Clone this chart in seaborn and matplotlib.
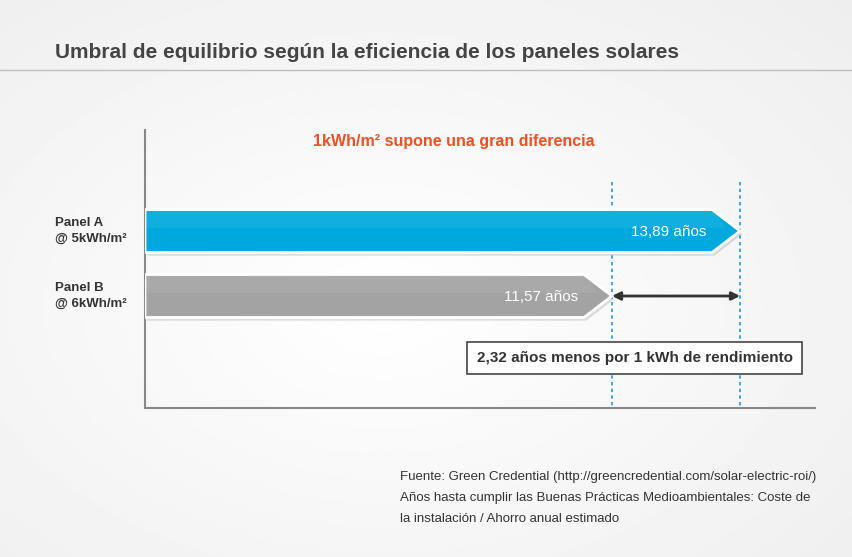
import matplotlib
matplotlib.use("Agg")
import matplotlib.pyplot as plt
import numpy as np
import seaborn as sns

panels = ["Panel A\n@ 5kWh/m²", "Panel B\n@ 6kWh/m²"]
years = [13.89, 11.57]
labels = ["13,89 años", "11,57 años"]
colors = ["#00a9dd", "#a3a3a3"]
diff_label = "2,32 años menos por 1 kWh de rendimiento"
title = "Umbral de equilibrio según la eficiencia de los paneles solares"
subtitle = "1kWh/m² supone una gran diferencia"
notes = ["Fuente: Green Credential (http://greencredential.com/solar-electric-roi/)",
         "Años hasta cumplir las Buenas Prácticas Medioambientales: Coste de",
         "la instalación / Ahorro anual estimado"]


def main():
	sns.set_theme(style="white", font="Liberation Sans")
	fig = plt.figure(figsize=(8.53, 5.57), dpi=100)

	# soft background
	bg = fig.add_axes([0, 0, 1, 1], zorder=-10)
	yy, xx = np.mgrid[0:1:200j, 0:1:300j]
	r = np.sqrt((xx - 0.45) ** 2 + (yy - 0.55) ** 2)
	bg.imshow(1 - 0.07 * np.clip(r / 0.8, 0, 1), cmap="gray", vmin=0, vmax=1,
	          extent=[0, 1, 0, 1], aspect="auto")
	bg.axis("off")

	fig.text(55 / 853, 1 - 52 / 557, title, fontsize=15, fontweight="bold",
	         color="#444444", va="center")
	fig.add_artist(plt.Line2D([0, 1], [1 - 70 / 557] * 2, color="#bdbdbd", lw=1))

	ax = fig.add_axes([145 / 853, 149 / 557, 670 / 853, 278 / 557])
	ax.set_facecolor("none")
	x0, k = 3.11, 55.2
	ax.set_xlim(x0, x0 + 670 / k)
	ax.set_ylim(2.723, -1.554)
	for s in ["top", "right"]:
		ax.spines[s].set_visible(False)
	for s in ["left", "bottom"]:
		ax.spines[s].set_color("#888888")
		ax.spines[s].set_linewidth(1.5)
	ax.set_xticks([])
	ax.set_yticks([])

	h = 0.33
	tip = 28 / k
	for i, (v, c, lab) in enumerate(zip(years, colors, labels)):
		xs = [x0, v - tip, v, v - tip, x0]
		ys = [i - h, i - h, i, i + h, i + h]
		ax.fill([x + 0.04 for x in xs], [y + 0.05 for y in ys], color="#000000",
		        alpha=0.12, lw=0, zorder=2)
		ax.fill(xs, ys, color=c, ec="white", lw=2, zorder=3)
		ax.fill(xs[:2] + [v - tip * 0.5, x0], [i - h, i - h, i - 0.05, i - 0.05],
		        color="white", alpha=0.07, lw=0, zorder=4)
		ax.text(v - tip - 0.1, i + 0.02, lab, color="white", fontsize=11,
		        ha="right", va="center", zorder=5)
		fig.text(55 / 853, ax.transData.transform((0, i))[1] / 557, panels[i],
		         fontsize=9.5, fontweight="bold", color="#333333", va="center",
		         linespacing=1.5)

	for v in years:
		ax.plot([v, v], [-0.75, 2.723], ls=(0, (2, 2)), color="#1a9fcf", lw=1.2, zorder=1)
	ax.annotate("", xy=(years[0], 1), xytext=(years[1], 1),
	            arrowprops=dict(arrowstyle="<|-|>", color="#333333", lw=2,
	                            mutation_scale=12, shrinkA=0, shrinkB=0))
	ax.text(11.98, 1.95, diff_label, fontsize=11, fontweight="bold", color="#333333",
	        ha="center", va="center",
	        bbox=dict(boxstyle="square,pad=0.6", fc="white", ec="#444444", lw=1.2))
	ax.text(8.7, -1.37, subtitle, fontsize=11.5, fontweight="bold", color="#f04e23",
	        ha="center", va="center")

	for j, n in enumerate(notes):
		fig.text(400 / 853, 1 - (477 + 21 * j) / 557, n, fontsize=9.5,
		         color="#333333", va="center")

	fig.savefig("out.png", dpi=100)


if __name__ == "__main__":
	main()
